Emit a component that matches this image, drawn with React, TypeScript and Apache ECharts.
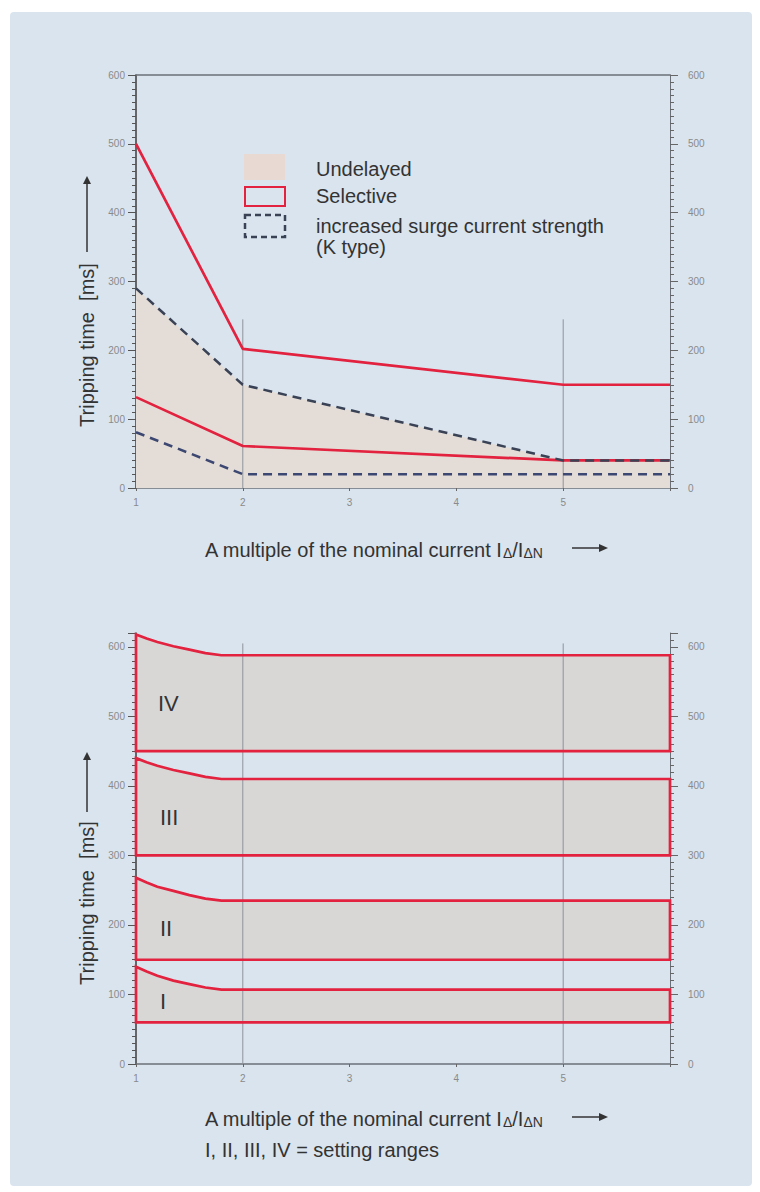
import React, { useEffect, useRef } from 'react';
import * as echarts from 'echarts';

const FONT = '"Liberation Sans", Arial, Helvetica, sans-serif';

// ---- axes ----
const xMin = 1;
const xMax = 6;
const xTickValues = [1, 2, 3, 4, 5];
const yMaxTop = 600;
const yMaxBottom = 620;

// ---- top chart (values in ms) ----
const selUpperX = [1, 2, 5, 6];
const selUpperY = [500, 202, 150, 150];
const selLowerX = [1, 2, 5, 6];
const selLowerY = [132, 61, 40, 40];
const kUpperX = [1, 2, 5, 6];
const kUpperY = [290, 150, 40, 40];
const kLowerX = [1, 2, 6];
const kLowerY = [81, 20, 20];
const topGridX = [2, 5];
const topGridTop = [245, 245];

// ---- bottom chart: setting ranges ----
const bandNames = ['I', 'II', 'III', 'IV'];
const bandX = [1, 1.1, 1.2, 1.35, 1.5, 1.65, 1.8, 6];
const bandITop = [140, 133, 127, 120, 115, 110, 107, 107];
const bandIITop = [268, 261, 255, 249, 243, 238, 235, 235];
const bandIIITop = [440, 434, 429, 423, 418, 413, 410, 410];
const bandIVTop = [618, 612, 607, 601, 596, 591, 588, 588];
const bandBottoms = [60, 150, 300, 450];
const bottomGridX = [2, 5];
const bottomGridTop = [605, 605];

const bandTops = [bandITop, bandIITop, bandIIITop, bandIVTop];

const RED = '#e2223e';
const DASH = '#3a4256';
const DASH2 = '#3d4872';
const PANEL = '#d9e4ef';

const pairs = (xs: number[], ys: number[]) => xs.map((x, i) => [x, ys[i]]);

function yAxesFor(gridIndex: number, max: number) {
  const fmt = (v: number) => {
    const r = Math.round(v);
    return r % 100 === 0 && r <= 600 ? String(r) : '';
  };
  const lbl = { color: '#8a8a8a', fontSize: 10, fontFamily: FONT };
  const base = { type: 'value', gridIndex, min: 0, max, splitLine: { show: false } };
  return [
    {
      ...base, position: 'left', interval: 10,
      axisLine: { show: true, onZero: false, lineStyle: { color: '#3c3c3c', width: 1.5 } },
      axisTick: { show: true, length: 4, lineStyle: { color: '#555', width: 1 } },
      axisLabel: { ...lbl, margin: 11, formatter: fmt },
    },
    {
      ...base, position: 'left', interval: 100,
      axisLine: { show: false, onZero: false },
      axisTick: { show: true, length: 8, lineStyle: { color: '#555', width: 1 } },
      axisLabel: { show: false },
    },
    {
      ...base, position: 'right', interval: 10,
      axisLine: { show: true, onZero: false, lineStyle: { color: '#6b7078', width: 1 } },
      axisTick: { show: true, length: 4, lineStyle: { color: '#666', width: 1 } },
      axisLabel: { ...lbl, margin: 18, formatter: fmt },
    },
    {
      ...base, position: 'right', interval: 100,
      axisLine: { show: false, onZero: false },
      axisTick: { show: true, length: 8, lineStyle: { color: '#666', width: 1 } },
      axisLabel: { show: false },
    },
  ];
}

function xAxisFor(gridIndex: number) {
  return {
    type: 'value', gridIndex, min: xMin, max: xMax, interval: 1, position: 'bottom',
    splitLine: { show: false },
    axisLine: { show: true, onZero: false, lineStyle: { color: '#6b7078', width: 1.5 } },
    axisTick: { show: true, length: 3, lineStyle: { color: '#666' } },
    axisLabel: {
      color: '#8a8a8a', fontSize: 10, fontFamily: FONT, margin: 9,
      formatter: (v: number) => (xTickValues.includes(Math.round(v)) ? String(Math.round(v)) : ''),
    },
  };
}

function xName(y: number) {
  return [
    {
      type: 'text', x: 205, y, z: 10,
      style: {
        text: '{n|A multiple of the nominal current I}{s|Δ}{n|/I}{s|ΔN}',
        verticalAlign: 'middle', align: 'left', fill: '#333',
        rich: {
          n: { fontSize: 20, fontFamily: FONT, fill: '#333', lineHeight: 24, verticalAlign: 'bottom' },
          s: { fontSize: 14, fontFamily: FONT, fill: '#333', lineHeight: 17, verticalAlign: 'bottom' },
        },
      },
    },
    { type: 'line', z: 10, shape: { x1: 572, y1: y, x2: 602, y2: y }, style: { stroke: '#333', lineWidth: 1.5 } },
    { type: 'polygon', z: 10, shape: { points: [[599, y - 4], [608, y], [599, y + 4]] }, style: { fill: '#333' } },
  ];
}

function yName(cy: number, arrowFrom: number, arrowTo: number) {
  return [
    {
      type: 'text', x: 87, y: cy, rotation: Math.PI / 2, z: 10,
      style: { text: 'Tripping time  [ms]', fontSize: 20, fontFamily: FONT, fill: '#333', align: 'center', verticalAlign: 'middle' },
    },
    { type: 'line', z: 10, shape: { x1: 87, y1: arrowFrom, x2: 87, y2: arrowTo + 4 }, style: { stroke: '#333', lineWidth: 1.5 } },
    { type: 'polygon', z: 10, shape: { points: [[83, arrowTo + 8], [87, arrowTo], [91, arrowTo + 8]] }, style: { fill: '#333' } },
  ];
}

export default function App() {
  const ref = useRef<HTMLDivElement>(null);

  useEffect(() => {
    if (!ref.current) return;
    const chart = echarts.init(ref.current, undefined, { renderer: 'svg' });

    const lineBase = { type: 'line', showSymbol: false, symbol: 'none', silent: true };

    const bandShape = (i: number, api: any) => {
      const tops = bandTops[i];
      const pts = bandX.map((x, k) => api.coord([x, tops[k]]));
      pts.push(api.coord([xMax, bandBottoms[i]]), api.coord([xMin, bandBottoms[i]]));
      return pts;
    };

    const series: any[] = [
      // Undelayed area (under the K-type upper limit)
      {
        ...lineBase, name: 'Undelayed', xAxisIndex: 0, yAxisIndex: 0, z: 1,
        data: pairs(kUpperX, kUpperY),
        lineStyle: { width: 0, opacity: 0 },
        areaStyle: { color: '#e4ddd7', opacity: 1 },
      },
      ...topGridX.map((x, i) => ({
        ...lineBase, xAxisIndex: 0, yAxisIndex: 0, z: 2,
        data: [[x, 0], [x, topGridTop[i]]],
        lineStyle: { color: '#8d939b', width: 1 },
      })),
      {
        ...lineBase, name: 'Selective upper', xAxisIndex: 0, yAxisIndex: 0, z: 3,
        data: pairs(selUpperX, selUpperY), lineStyle: { color: RED, width: 2.7 },
      },
      {
        ...lineBase, name: 'Selective lower', xAxisIndex: 0, yAxisIndex: 0, z: 3,
        data: pairs(selLowerX, selLowerY), lineStyle: { color: RED, width: 2.7 },
      },
      {
        ...lineBase, name: 'K type upper', xAxisIndex: 0, yAxisIndex: 0, z: 4,
        data: pairs(kUpperX, kUpperY), lineStyle: { color: DASH, width: 2.5, type: [9, 6] },
      },
      {
        ...lineBase, name: 'K type lower', xAxisIndex: 0, yAxisIndex: 0, z: 4,
        data: pairs(kLowerX, kLowerY), lineStyle: { color: DASH2, width: 2.5, type: [9, 6] },
      },
      // bottom: band fills
      {
        type: 'custom', name: 'Setting ranges fill', xAxisIndex: 2, yAxisIndex: 4, z: 1, silent: true,
        data: bandBottoms.map((b) => [xMin, b]),
        renderItem: (params: any, api: any) => ({
          type: 'polygon', shape: { points: bandShape(params.dataIndex, api) },
          style: { fill: '#d8d7d6', stroke: 'none' },
        }),
      },
      ...bottomGridX.map((x, i) => ({
        ...lineBase, xAxisIndex: 2, yAxisIndex: 4, z: 2,
        data: [[x, 0], [x, bottomGridTop[i]]],
        lineStyle: { color: '#8d939b', width: 1 },
      })),
      {
        type: 'custom', name: 'Setting ranges outline', xAxisIndex: 2, yAxisIndex: 4, z: 3, silent: true,
        data: bandBottoms.map((b) => [xMin, b]),
        renderItem: (params: any, api: any) => ({
          type: 'polygon', shape: { points: bandShape(params.dataIndex, api) },
          style: { fill: 'none', stroke: RED, lineWidth: 2.7 },
        }),
      },
    ];

    const legendText = (text: string, y: number) => ({
      type: 'text', x: 316, y, z: 10,
      style: { text, fontSize: 20, fontFamily: FONT, fill: '#333', align: 'left', verticalAlign: 'middle' },
    });

    const bandLabelPos = [[160, 1001], [160, 928], [160, 817], [158, 703]];

    const graphic: any[] = [
      { type: 'rect', z: -100, silent: true, shape: { x: 10, y: 12, width: 742, height: 1174, r: 4 }, style: { fill: PANEL } },
      // legend
      { type: 'rect', z: 10, shape: { x: 244, y: 154, width: 41, height: 26 }, style: { fill: '#e8dad2' } },
      { type: 'rect', z: 10, shape: { x: 245, y: 187, width: 40, height: 19 }, style: { fill: 'none', stroke: RED, lineWidth: 2 } },
      { type: 'rect', z: 10, shape: { x: 245, y: 215, width: 40, height: 22 }, style: { fill: 'none', stroke: DASH, lineWidth: 2.5, lineDash: [6, 4] } },
      legendText('Undelayed', 169),
      legendText('Selective', 196),
      legendText('increased surge current strength', 226),
      legendText('(K type)', 247),
      ...xName(548),
      ...xName(1117),
      {
        type: 'text', x: 205, y: 1150, z: 10,
        style: { text: 'I, II, III, IV = setting ranges', fontSize: 20, fontFamily: FONT, fill: '#333', align: 'left', verticalAlign: 'middle' },
      },
      ...yName(345, 252, 176),
      ...yName(903, 812, 752),
      ...bandNames.map((t, i) => ({
        type: 'text', x: bandLabelPos[i][0], y: bandLabelPos[i][1], z: 10,
        style: { text: t, fontSize: 22, fontFamily: FONT, fill: '#333', align: 'left', verticalAlign: 'middle' },
      })),
    ];

    const option: any = {
      animation: false,
      backgroundColor: '#ffffff',
      textStyle: { fontFamily: FONT },
      grid: [
        { left: 136, top: 75, width: 534, height: 413, containLabel: false },
        { left: 136, top: 633, width: 534, height: 431, containLabel: false },
      ],
      xAxis: [
        xAxisFor(0),
        {
          type: 'value', gridIndex: 0, min: xMin, max: xMax, position: 'top',
          splitLine: { show: false },
          axisLine: { show: true, onZero: false, lineStyle: { color: '#6b7078', width: 1.5 } },
          axisTick: { show: false }, axisLabel: { show: false },
        },
        xAxisFor(1),
      ],
      yAxis: [...yAxesFor(0, yMaxTop), ...yAxesFor(1, yMaxBottom)],
      series,
      graphic,
    };

    chart.setOption(option);
    return () => chart.dispose();
  }, []);

  return <div ref={ref} style={{ position: 'absolute', left: 0, top: 0, width: 760, height: 1192 }} />;
}
